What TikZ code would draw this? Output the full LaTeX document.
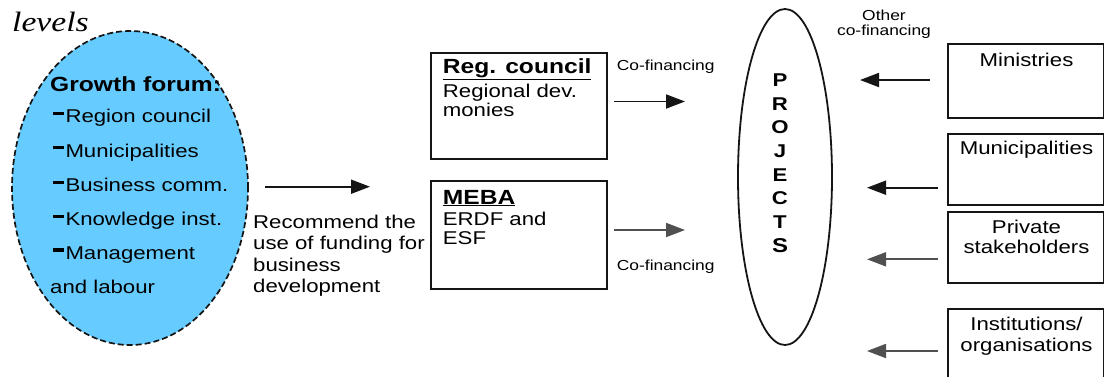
\documentclass[tikz,border=0pt]{standalone}
\usepackage{fontspec}
\setmainfont{Liberation Sans}[FakeStretch=1.2]
\newfontfamily\levelsfont{Liberation Serif}[FakeStretch=1.2]
\usetikzlibrary{shapes.geometric,arrows.meta}
\newcommand\myBody{\fontsize{18.5}{21.5}\selectfont}
\newcommand\myBold{\fontsize{20.5}{24}\selectfont\bfseries}
\newcommand\mySmall{\fontsize{14.5}{17}\selectfont}
\newcommand\mydash{\rule[0.42em]{0.6em}{0.18em}\hspace{1.5pt}}
\definecolor{forumblue}{HTML}{66CCFF}
\definecolor{inkline}{HTML}{151515}
\definecolor{greyline}{HTML}{505050}
\begin{document}
\begin{tikzpicture}[x=1pt,y=-1pt,
  lbl/.style={inner sep=0pt, anchor=base west, font=\myBody},
  lblc/.style={inner sep=0pt, anchor=base, font=\myBody},
  small/.style={inner sep=0pt, anchor=base west, font=\mySmall},
  smallc/.style={inner sep=0pt, anchor=base, font=\mySmall},
  box/.style={draw=inkline, line width=1.8pt, anchor=north west, inner sep=0pt},
  arr/.style={draw=inkline, line width=1.8pt, -{Triangle[length=19pt,width=14pt]}},
  garr/.style={arr, draw=greyline},
  letter/.style={inner sep=0pt, font=\fontsize{18.5}{20}\selectfont\bfseries}
]
\clip (0,0) rectangle (1104,376);
\fill[white] (0,0) rectangle (1104,376);

% title fragment
\node[inner sep=0pt, anchor=base west, font=\fontsize{28}{30}\selectfont\levelsfont\itshape] (levels) at (12,31.7) {levels};

% growth forum ellipse
\node[ellipse, draw=inkline, fill=forumblue, line width=1.7pt, dash pattern=on 6pt off 3pt,
      minimum width=236pt, minimum height=314pt, inner sep=0pt] (gf) at (130,188) {};
\node[inner sep=0pt, anchor=base west, font=\myBold] (gft) at (50,91.7) {Growth forum:};
\node[lbl] (i1) at (52.7,122.7) {\mydash Region council};
\node[lbl] (i2) at (52.7,157) {\mydash Municipalities};
\node[lbl] (i3) at (52.7,191.7) {\mydash Business comm.};
\node[lbl] (i4) at (52.7,225.7) {\mydash Knowledge inst.};
\node[lbl] (i5) at (52.7,259.3) {\mydash Management};
\node[lbl] (i6) at (50,293) {and labour};

% recommend text
\node[lbl] (r1) at (253,228.3) {Recommend the};
\node[lbl] (r2) at (253,249.8) {use of funding for};
\node[lbl] (r3) at (253,271.3) {business};
\node[lbl] (r4) at (253,292.8) {development};

% middle boxes
\node[box, minimum width=176pt, minimum height=106pt] (reg) at (430,52) {};
\node[inner sep=0pt, anchor=base west, font=\myBold] (regt) at (442.7,73.3) {\underline{Reg. council}};
\node[lbl] (reg1) at (442.7,97.3) {Regional dev.};
\node[lbl] (reg2) at (442.7,116.7) {monies};

\node[box, minimum width=176pt, minimum height=108pt] (meba) at (430,180) {};
\node[inner sep=0pt, anchor=base west, font=\myBold] (mebat) at (442.7,204) {\underline{MEBA}};
\node[lbl] (meba1) at (442.7,225) {ERDF and};
\node[lbl] (meba2) at (442.7,244) {ESF};

% co-financing labels
\node[small] (cf1) at (616.7,70) {Co-financing};
\node[small] (cf2) at (616.7,270.7) {Co-financing};
\node[smallc] (oth1) at (884,20.7) {Other};
\node[smallc] (oth2) at (884,35) {co-financing};

% projects ellipse
\node[ellipse, draw=inkline, line width=1.8pt, minimum width=94pt, minimum height=336pt, inner sep=0pt] (proj) at (785,177) {};
\foreach \l [count=\i from 0] in {P,R,O,J,E,C,T}
  \node[letter] (pl\i) at (780,80+\i*23.7) {\l};
\node[letter, font=\fontsize{20}{22}\selectfont\bfseries] (pl7) at (780,245.9) {S};

% right boxes
\node[box, minimum width=156pt, minimum height=74pt] (min) at (947,43) {};
\node[box, minimum width=156pt, minimum height=71pt] (mun) at (947,133) {};
\node[box, minimum width=156pt, minimum height=71pt] (priv) at (947,211) {};
\node[box, minimum width=156pt, minimum height=90pt] (inst) at (947,308) {};
\node[lblc] (mint) at (1026.5,66.7) {Ministries};
\node[lblc] (munt) at (1026.5,154) {Municipalities};
\node[lblc] (priv1) at (1026.5,233.3) {Private};
\node[lblc] (priv2) at (1026.5,253.3) {stakeholders};
\node[lblc] (inst1) at (1026.5,330) {Institutions/};
\node[lblc] (inst2) at (1026.5,351.7) {organisations};

% arrow end points
\coordinate (a1s) at (265,186.7);  \coordinate (a1e) at (370,186.7);
\coordinate (a2s) at (614,101.5);  \coordinate (a2e) at (685,101.5);
\coordinate (a3s) at (614,230);    \coordinate (a3e) at (685,230);
\coordinate (a4s) at (930,80);     \coordinate (a4e) at (860,80);
\coordinate (a5s) at (938,187.7);  \coordinate (a5e) at (867,187.7);
\coordinate (a6s) at (938,259.3);  \coordinate (a6e) at (867,259.3);
\coordinate (a7s) at (938,351);    \coordinate (a7e) at (867,351);

\draw[arr] (a1s) -- (a1e);
\draw[arr] (a2s) -- (a2e);
\draw[garr] (a3s) -- (a3e);
\draw[arr] (a4s) -- (a4e);
\draw[arr] (a5s) -- (a5e);
\draw[garr] (a6s) -- (a6e);
\draw[garr] (a7s) -- (a7e);
\end{tikzpicture}
\end{document}
